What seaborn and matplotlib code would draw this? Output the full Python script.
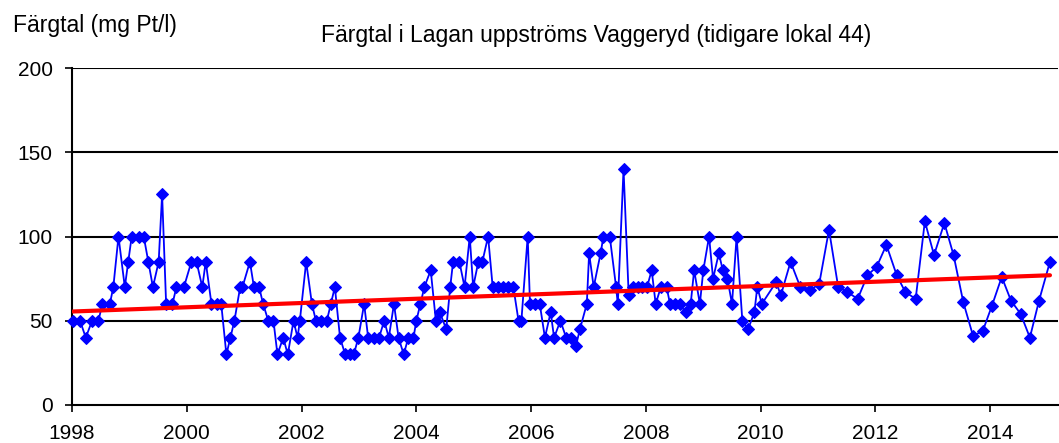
"""
Färgtal i Lagan uppströms Vaggeryd - time series with linear trend.
"""

import numpy as np
import pandas as pd
import matplotlib
matplotlib.use("Agg")
import matplotlib.pyplot as plt
import seaborn as sns

# Sampling dates as years after 1998
years_since_1998 = [
    0.02, 0.14, 0.24, 0.35, 0.46, 0.53, 0.66, 0.72, 0.81, 0.92, 0.98,
    1.04, 1.17, 1.25, 1.33, 1.41, 1.51, 1.57, 1.64, 1.75, 1.82, 1.95,
    2.08, 2.17, 2.27, 2.33, 2.43, 2.52, 2.60, 2.69, 2.76, 2.83, 2.93, 2.97,
    3.10, 3.17, 3.26, 3.33, 3.42, 3.51, 3.58, 3.68, 3.76, 3.86, 3.93, 3.97,
    4.08, 4.18, 4.25, 4.33, 4.44, 4.51, 4.58, 4.67, 4.76, 4.84, 4.91, 4.99,
    5.09, 5.16, 5.26, 5.35, 5.44, 5.52, 5.61, 5.69, 5.78, 5.86, 5.95,
    6.00, 6.07, 6.14, 6.25, 6.34, 6.41, 6.52, 6.59, 6.64, 6.75, 6.84, 6.93, 6.99,
    7.08, 7.15, 7.25, 7.33, 7.43, 7.51, 7.60, 7.69, 7.78, 7.83, 7.94, 7.98,
    8.07, 8.15, 8.24, 8.34, 8.40, 8.51, 8.61, 8.69, 8.78, 8.85, 8.97,
    9.01, 9.09, 9.21, 9.26, 9.37, 9.48, 9.51, 9.61, 9.70, 9.78, 9.87, 9.94,
    10.02, 10.10, 10.17, 10.26, 10.36, 10.42, 10.51, 10.59, 10.69, 10.78, 10.84, 10.94,
    11.00, 11.10, 11.17, 11.27, 11.34, 11.42, 11.50, 11.58, 11.68, 11.78, 11.89, 11.94,
    12.02, 12.27, 12.35, 12.52, 12.69, 12.86,
    13.02, 13.19, 13.35, 13.51, 13.69, 13.86,
    14.02, 14.19, 14.37, 14.52, 14.70, 14.86,
    15.02, 15.20, 15.36, 15.53, 15.70, 15.87,
    16.03, 16.20, 16.36, 16.53, 16.69, 16.85,
    17.04,
]

fargtal = [
    50, 50, 40, 50, 50, 60, 60, 70, 100, 70, 85,
    100, 100, 100, 85, 70, 85, 125, 60, 60, 70, 70,
    85, 85, 70, 85, 60, 60, 60, 30, 40, 50, 70, 70,
    85, 70, 70, 60, 50, 50, 30, 40, 30, 50, 40, 50,
    85, 60, 50, 50, 50, 60, 70, 40, 30, 30, 30, 40,
    60, 40, 40, 40, 50, 40, 60, 40, 30, 40, 40,
    50, 60, 70, 80, 50, 55, 45, 70, 85, 85, 70, 100, 70,
    85, 85, 100, 70, 70, 70, 70, 70, 50, 50, 100, 60,
    60, 60, 40, 55, 40, 50, 40, 40, 35, 45, 60,
    90, 70, 90, 100, 100, 70, 60, 140, 65, 70, 70, 70,
    70, 80, 60, 70, 70, 60, 60, 60, 55, 60, 80, 60,
    80, 100, 75, 90, 80, 75, 60, 100, 50, 45, 55, 70,
    60, 73, 65, 85, 70, 68,
    72, 104, 70, 67, 63, 77,
    82, 95, 77, 67, 63, 109,
    89, 108, 89, 61, 41, 44,
    59, 76, 62, 54, 40, 62,
    85,
]

# Trend line end values as drawn in the chart (first and last sample date)
trend_values = [55.5, 77.0]

year_ticks = [1998, 2000, 2002, 2004, 2006, 2008, 2010, 2012, 2014]
value_ticks = [0, 50, 100, 150, 200]

df = pd.DataFrame({"year": 1998 + np.array(years_since_1998), "fargtal": fargtal})
trend = pd.DataFrame({"year": [df["year"].iloc[0], df["year"].iloc[-1]],
                      "fargtal": trend_values})

sns.set_style("white")
plt.rcParams["font.family"] = ["Liberation Sans", "DejaVu Sans"]
plt.rcParams["text.color"] = "black"

fig = plt.figure(figsize=(10.59, 4.43), dpi=100)
ax = fig.add_axes([72 / 1059, 1 - 405 / 443, 986 / 1059, 337 / 443])

# horizontal black gridlines
for v in value_ticks[1:]:
    ax.axhline(v, color="black", lw=1.5, zorder=1)

sns.lineplot(data=df, x="year", y="fargtal", ax=ax, color="#0000FF", lw=1.3,
             marker="D", markersize=6, markeredgecolor="#0000FF", zorder=3,
             clip_on=False)
sns.lineplot(data=trend, x="year", y="fargtal", ax=ax, color="#FF0000", lw=3,
             zorder=4)

ax.set_xlim(1998, 2015.18)
ax.set_ylim(0, 200)
ax.set_xticks(year_ticks)
ax.set_yticks(value_ticks)
ax.set_xlabel("")
ax.set_ylabel("")

for side in ["top", "right"]:
    ax.spines[side].set_visible(False)
for side in ["left", "bottom"]:
    ax.spines[side].set_color("black")
    ax.spines[side].set_linewidth(1.5)

ax.tick_params(axis="both", direction="out", length=5, width=1.2, color="black",
               labelsize=15, labelcolor="black", bottom=True, left=True)
ax.tick_params(axis="x", pad=9)
ax.tick_params(axis="y", pad=9)

fig.text(13 / 1059, 1 - 32 / 443, "Färgtal (mg Pt/l)", fontsize=16.5,
         color="black", ha="left", va="baseline")
fig.text(596 / 1059, 1 - 42 / 443,
         "Färgtal i Lagan uppströms Vaggeryd (tidigare lokal 44)",
         fontsize=16.5, color="black", ha="center", va="baseline")

fig.savefig("out.png", dpi=100)
